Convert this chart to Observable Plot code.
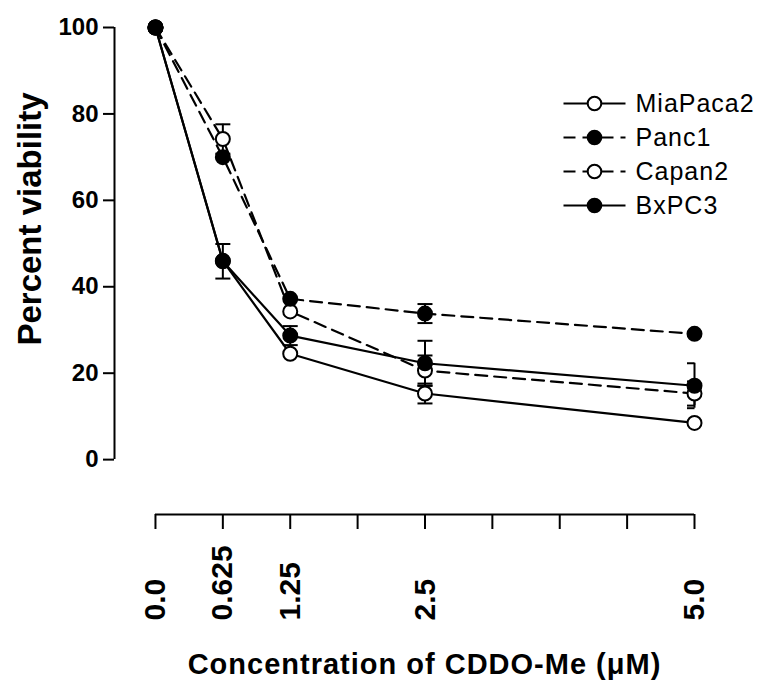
<!DOCTYPE html>
<html><head><meta charset="utf-8">
<script src="https://cdn.jsdelivr.net/npm/d3@7"></script>
<script src="https://cdn.jsdelivr.net/npm/@observablehq/plot@0.6"></script>
<style>
body{margin:0;background:#fff;}
#chart{position:relative;width:760px;height:689px;}
#legend{position:absolute;left:555px;top:80px;}
</style></head><body><div id="chart"><div id="legend"></div></div>
<script>
const concentrations = [0, 0.625, 1.25, 2.5, 5.0];
const seriesNames = ["MiaPaca2", "Panc1", "Capan2", "BxPC3"];
const miaPaca2 = [100, 46, 24.5, 15.3, 8.5];
const miaPaca2Err = [0, 0, 0, 2.3, 0];
const panc1 = [100, 70, 37.2, 33.8, 29.1];
const panc1Err = [0, 0, 0, 2.2, 0];
const capan2 = [100, 74.2, 34.3, 20.6, 15.3];
const capan2Err = [0, 3.4, 0, 3.5, 2.8];
const bxpc3 = [100, 45.9, 28.7, 22.3, 17.1];
const bxpc3Err = [0, 4, 2.2, 5.2, 5.2];
const xTickValues = [0, 0.625, 1.25, 1.875, 2.5, 3.125, 3.75, 4.375, 5.0];
const xTickLabels = ["0.0", "0.625", "1.25", "2.5", "5.0"];
const yTickValues = [0, 20, 40, 60, 80, 100];
const xTitle = "Concentration of CDDO-Me (\u03bcM)";
const yTitle = "Percent viability";

const values = {MiaPaca2: miaPaca2, Panc1: panc1, Capan2: capan2, BxPC3: bxpc3};
const errors = {MiaPaca2: miaPaca2Err, Panc1: panc1Err, Capan2: capan2Err, BxPC3: bxpc3Err};
const styles = {
  MiaPaca2: {dash: null, fill: "white"},
  Panc1: {dash: "12,7", fill: "black"},
  Capan2: {dash: "12,7", fill: "white"},
  BxPC3: {dash: null, fill: "black"}
};
const drawOrder = ["MiaPaca2", "Capan2", "Panc1", "BxPC3"];

const rows = {};
for (const s of seriesNames) {
  rows[s] = concentrations.map((c, i) => ({series: s, x: c, y: values[s][i], err: errors[s][i]}));
}
const xMin = -0.38, xMax = 5.0;
const yMin = -12.7, yMax = 100;
const errRows = seriesNames.flatMap(s => rows[s].filter(d => d.err > 0));
const capRows = errRows.flatMap(d => [{x: d.x, y: d.y - d.err}, {x: d.x, y: d.y + d.err}]);

const capSymbol = {
  draw(context, size) {
    const r = Math.sqrt(size / Math.PI);
    context.moveTo(-r, 0);
    context.lineTo(r, 0);
  }
};
// caps at the right edge of the axis are clipped to their left half
const halfCapSymbol = {
  draw(context, size) {
    const r = Math.sqrt(size / Math.PI);
    context.moveTo(-r, 0);
    context.lineTo(0, 0);
  }
};

const font = "Liberation Sans, Arial, Helvetica, sans-serif";

const marks = [
  Plot.axisY(yTickValues, {anchor: "left", tickSize: 11, tickPadding: 5, fontSize: 24, fontWeight: "bold", strokeWidth: 2, label: null, fill: "black"}),
  Plot.ruleX([xMin], {y1: 0, y2: 100, strokeWidth: 2}),
  Plot.axisX(xTickValues, {anchor: "bottom", tickSize: 15, tickFormat: () => "", strokeWidth: 2, label: null}),
  Plot.ruleY([yMin], {x1: 0, x2: 5, strokeWidth: 2}),
  Plot.text(concentrations, {x: d => d, text: (d, i) => xTickLabels[i], frameAnchor: "bottom", rotate: -90, textAnchor: "start", lineAnchor: "middle", dy: 106, fontSize: 30, fontWeight: "bold", fill: "black"}),
  Plot.text([yTitle], {frameAnchor: "left", rotate: -90, textAnchor: "middle", lineAnchor: "middle", dx: -84, dy: -52, fontSize: 33, fontWeight: "bold", fill: "black"}),
  Plot.text([xTitle], {frameAnchor: "bottom", textAnchor: "middle", lineAnchor: "middle", dx: 20, dy: 150, fontSize: 29, fontWeight: "bold", fill: "black"}),
  Plot.ruleX(errRows, {x: "x", y1: d => d.y - d.err, y2: d => d.y + d.err, strokeWidth: 2, stroke: "black"}),
  Plot.dot(capRows.filter(d => d.x < xMax), {x: "x", y: "y", symbol: capSymbol, r: 7.5, stroke: "black", fill: "none", strokeWidth: 2}),
  Plot.dot(capRows.filter(d => d.x >= xMax), {x: "x", y: "y", symbol: halfCapSymbol, r: 7.5, stroke: "black", fill: "none", strokeWidth: 2})
];
for (const s of seriesNames) {
  marks.push(Plot.line(rows[s], {x: "x", y: "y", stroke: "black", strokeWidth: 2.2, strokeDasharray: styles[s].dash || undefined}));
}
for (const s of drawOrder) {
  marks.push(Plot.dot(rows[s], {x: "x", y: "y", r: 7, fill: styles[s].fill, stroke: "black", strokeWidth: 2}));
}

const chart = Plot.plot({
  width: 760, height: 689,
  marginLeft: 114, marginRight: 66, marginTop: 27, marginBottom: 175,
  x: {domain: [xMin, xMax]},
  y: {domain: [yMin, yMax]},
  style: {fontFamily: font, background: "white", color: "black"},
  marks
});
document.getElementById("chart").prepend(chart);

const legendMarks = [];
for (const s of seriesNames) {
  legendMarks.push(Plot.link([s], {x1: 0, x2: 1, y1: d => d, y2: d => d, stroke: "black", strokeWidth: 2.2, strokeDasharray: styles[s].dash || undefined}));
  legendMarks.push(Plot.dot([s], {x: 0.5, y: d => d, r: 6.8, fill: styles[s].fill, stroke: "black", strokeWidth: 2}));
}
legendMarks.push(Plot.text(seriesNames, {x: 1, y: d => d, text: d => d, textAnchor: "start", lineAnchor: "middle", dx: 10, fontSize: 25, fill: "black"}));
const legend = Plot.plot({
  width: 205, height: 150, margin: 0,
  x: {domain: [0, 1], range: [8, 70], axis: null},
  y: {type: "point", domain: seriesNames, range: [23, 125], padding: 0, axis: null},
  style: {fontFamily: font, background: "transparent", color: "black"},
  marks: legendMarks
});
document.getElementById("legend").append(legend);

d3.select(chart).selectAll("text").filter(function() { return this.textContent === xTitle; }).attr("letter-spacing", "1px");
d3.select(legend).selectAll("text").attr("letter-spacing", "1px");
</script></body></html>
